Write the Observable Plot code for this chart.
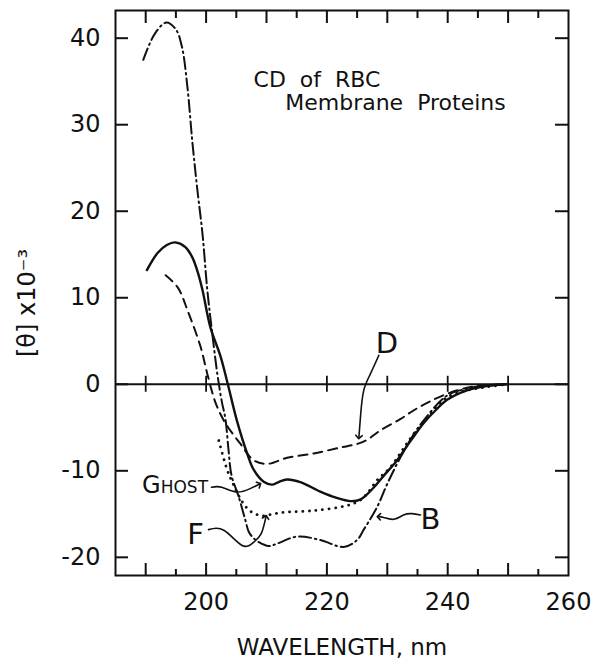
<!DOCTYPE html>
<html>
<head>
<meta charset="utf-8">
<script src="https://cdn.jsdelivr.net/npm/d3@7"></script>
<script src="https://cdn.jsdelivr.net/npm/@observablehq/plot@0.6"></script>
<style>
  html, body { margin: 0; padding: 0; background: #fff; }
</style>
</head>
<body>
<div id="chart"></div>
<script>
// ---- data (wavelength in nm, [θ] x 10^-3) ----
const ghostWavelength = [190.2,192.0,193.5,194.9,196.5,197.7,198.6,199.4,200.7,202.4,203.6,205.1,206.8,207.9,209.6,210.9,212.0,213.4,215.6,218.9,221.5,223.9,225.6,227.8,229.5,231.6,233.8,236.0,238.0,239.9,243.2,246.5,250.0];
const ghostTheta      = [13.2,15.2,16.1,16.4,15.9,14.7,13.0,10.9,6.6,3.2,0.0,-4.2,-8.0,-9.9,-11.3,-11.6,-11.3,-11.0,-11.3,-12.4,-13.1,-13.5,-13.3,-11.9,-10.5,-8.8,-6.6,-4.5,-3.0,-1.8,-0.7,-0.2,0.0];

const dWavelength = [193.3,195.3,197.0,199.1,200.2,201.6,203.2,205.7,207.9,210.1,213.4,217.8,222.3,225.0,226.7,228.9,232.2,234.4,237.0,239.9,243.2,246.5,250.0];
const dTheta      = [12.6,11.2,8.4,4.3,1.2,-2.2,-4.5,-6.9,-8.8,-9.2,-8.5,-8.0,-7.3,-6.9,-6.4,-5.3,-4.0,-3.0,-2.0,-1.1,-0.4,-0.1,0.0];

const fWavelength = [202.1,203.5,204.6,206.0,207.4,209.3,211.0,212.9,217.8,223.4,225.5,226.7,228.3,230.5,232.5,234.4,237.2,239.9,243.2,246.5,250.0];
const fTheta      = [-6.5,-9.9,-11.7,-13.6,-14.7,-15.2,-15.0,-14.8,-14.6,-14.0,-13.4,-12.6,-11.1,-9.6,-7.6,-5.7,-3.4,-1.5,-0.7,-0.3,0.0];

const bWavelength = [189.6,191.5,193.4,195.0,196.0,196.9,197.7,198.5,199.4,200.2,201.0,201.9,202.6,203.2,203.7,204.2,205.4,206.5,207.1,208.2,210.4,211.8,215.1,218.9,222.8,225.0,226.1,228.3,230.0,231.9,234.0,236.0,239.9,243.2,246.5,250.0];
const bTheta      = [37.5,40.5,41.8,41.0,39.0,34.4,28.2,22.8,17.4,10.9,6.0,1.0,-2.0,-4.0,-7.5,-10.5,-13.0,-15.7,-17.1,-18.0,-18.7,-18.4,-17.6,-18.0,-18.8,-18.0,-16.8,-14.2,-11.5,-8.8,-6.2,-4.2,-1.3,-0.5,-0.15,0.0];

// annotation leader lines (pointing at the curves)
const dArrowWavelength = [228.6,227.2,226.1,225.6,225.3];
const dArrowTheta      = [3.35,1.2,-0.7,-3.4,-6.1];
const ghostArrowWavelength = [200.9,202.6,205.0,207.3,208.8];
const ghostArrowTheta      = [-11.9,-11.9,-12.45,-12.06,-11.56];
const fArrowWavelength = [200.4,203.0,205.9,207.8,209.1,209.9];
const fArrowTheta      = [-16.8,-16.9,-18.6,-18.3,-17.3,-15.35];
const bArrowWavelength = [235.5,234.1,232.7,231.1,229.4,228.6];
const bArrowTheta      = [-15.1,-14.95,-15.1,-15.6,-15.4,-15.3];

// text labels
const curveLabels = ["D", "B", "F"];
const curveLabelX = [229.95, 237.15, 198.25];
const curveLabelY = [4.7, -15.65, -17.4];
const ghostLabel = ["Ghost"];
const ghostLabelX = [189.4];
const ghostLabelY = [-11.7];
const titleLines = ["CD\u00A0\u00A0of\u00A0\u00A0RBC", "Membrane\u00A0 Proteins"];
const titleX = [207.85, 213.1];
const titleY = [35.2, 32.5];
const yLabel = ["[θ] x10⁻³"];
const xLabel = ["WAVELENGTH, nm"];

// axes
const xDomain = [185, 260];
const yDomain = [-22.1, 43.2];
const xLabelTicks = [200, 220, 240, 260];
const xMajorTicks = [190, 200, 210, 220, 230, 240, 250];
const xMinorTicks = [195, 205, 215, 225, 235, 245, 255];
const yTicks = [-20, -10, 0, 10, 20, 30, 40];

const ink = "#111";
const tickStyle = {stroke: ink, strokeWidth: 2};

const chart = Plot.plot({
  width: 595,
  height: 664,
  marginLeft: 115,
  marginRight: 27,
  marginTop: 10,
  marginBottom: 89,
  x: {domain: xDomain},
  y: {domain: yDomain},
  style: {fontFamily: "DejaVu Sans", fontSize: "24px", color: ink, background: "#fff"},
  marks: [
    // frame, zero line and inward ticks
    Plot.frame({stroke: ink, strokeWidth: 2}),
    Plot.ruleY([0], {stroke: ink, strokeWidth: 2}),
    Plot.ruleX(xMajorTicks, {x: d => d, y1: 0, y2: 0, insetTop: -8, insetBottom: -8, stroke: ink, strokeWidth: 1.8}),
    Plot.ruleX(xMajorTicks, {x: d => d, y1: yDomain[0], y2: yDomain[0], insetTop: -12, ...tickStyle}),
    Plot.ruleX(xMinorTicks, {x: d => d, y1: yDomain[0], y2: yDomain[0], insetTop: -6, ...tickStyle}),
    Plot.ruleX(xMajorTicks, {x: d => d, y1: yDomain[1], y2: yDomain[1], insetBottom: -13, ...tickStyle}),
    Plot.ruleX(xMinorTicks, {x: d => d, y1: yDomain[1], y2: yDomain[1], insetBottom: -8, ...tickStyle}),
    Plot.ruleY(yTicks, {y: d => d, x1: xDomain[0], x2: xDomain[0], insetRight: -13, ...tickStyle}),
    Plot.ruleY(yTicks, {y: d => d, x1: xDomain[1], x2: xDomain[1], insetLeft: -13, ...tickStyle}),
    Plot.axisX(xLabelTicks, {anchor: "bottom", tickSize: 0, tickPadding: 17, fontSize: 24, label: null, tickFormat: d => String(d)}),
    Plot.axisY(yTicks, {anchor: "left", tickSize: 0, tickPadding: 15, fontSize: 24, label: null, tickFormat: d => String(d)}),

    // curves
    Plot.line(bTheta, {x: bWavelength, y: bTheta, curve: "catmull-rom", stroke: ink, strokeWidth: 2, strokeDasharray: "12,4,1.5,4"}),
    Plot.line(dTheta, {x: dWavelength, y: dTheta, curve: "catmull-rom", stroke: ink, strokeWidth: 2, strokeDasharray: "9,6"}),
    Plot.line(fTheta, {x: fWavelength, y: fTheta, curve: "catmull-rom", stroke: ink, strokeWidth: 2.8, strokeDasharray: "0.1,6.5", strokeLinecap: "round"}),
    Plot.line(ghostTheta, {x: ghostWavelength, y: ghostTheta, curve: "catmull-rom", stroke: ink, strokeWidth: 2.4}),

    // leader arrows
    Plot.line(dArrowTheta, {x: dArrowWavelength, y: dArrowTheta, curve: "natural", stroke: ink, strokeWidth: 1.6, markerEnd: "arrow"}),
    Plot.line(ghostArrowTheta, {x: ghostArrowWavelength, y: ghostArrowTheta, curve: "natural", stroke: ink, strokeWidth: 1.6, markerEnd: "arrow"}),
    Plot.line(fArrowTheta, {x: fArrowWavelength, y: fArrowTheta, curve: "natural", stroke: ink, strokeWidth: 1.6, markerEnd: "arrow"}),
    Plot.line(bArrowTheta, {x: bArrowWavelength, y: bArrowTheta, curve: "natural", stroke: ink, strokeWidth: 1.6, markerEnd: "arrow"}),

    // texts
    Plot.text(curveLabels, {x: curveLabelX, y: curveLabelY, text: d => d, fontSize: 29, fill: ink}),
    Plot.text(ghostLabel, {x: ghostLabelX, y: ghostLabelY, text: d => d, fontSize: 24, fontVariant: "small-caps", textAnchor: "start", fill: ink}),
    Plot.text(titleLines, {x: titleX, y: titleY, text: d => d, fontSize: 22, textAnchor: "start", fill: ink}),
    Plot.text(yLabel, {text: d => d, frameAnchor: "left", textAnchor: "middle", lineAnchor: "middle", dx: -88, dy: 10, rotate: -90, fontSize: 24, fill: ink}),
    Plot.text(xLabel, {text: d => d, frameAnchor: "bottom", textAnchor: "middle", lineAnchor: "middle", dy: 72, fontSize: 23, fill: ink})
  ]
});
document.getElementById("chart").appendChild(chart);
</script>
</body>
</html>
